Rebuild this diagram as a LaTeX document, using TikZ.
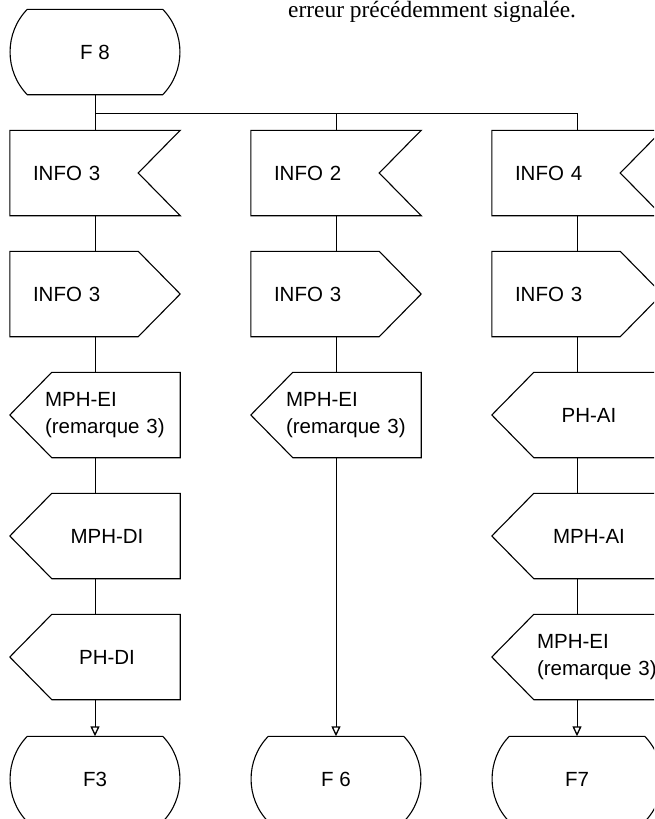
\documentclass[tikz,border=0pt]{standalone}
\usepackage{fontspec}
\setmainfont{Liberation Serif}
\setsansfont{Liberation Sans}
\usepackage{tikz}
\usetikzlibrary{arrows.meta}

\begin{document}
\begin{tikzpicture}[
    x=1pt,y=-1pt,
    trait/.style  = {black, line width=1.1pt, line join=miter},
    lien/.style   = {black, line width=1pt},
    fleche/.style = {lien, -{Triangle[open,length=10pt,width=9pt,line width=1.3pt]}},
    etiq/.style   = {font=\sffamily\fontsize{20.5}{27}\selectfont},
    boite/.style  = {etiq, rectangle, minimum width=170pt, minimum height=85pt,
                     inner ysep=0pt},
    recu/.style   = {boite, text width=124pt, inner xsep=23pt, align=left,
                     append after command={\pgfextra{
                       \draw[trait] (\tikzlastnode.north west) -- (\tikzlastnode.north east)
                         -- ([xshift=-42pt]\tikzlastnode.east) -- (\tikzlastnode.south east)
                         -- (\tikzlastnode.south west) -- cycle;}}},
    envoi/.style  = {boite, text width=124pt, inner xsep=23pt, align=left,
                     append after command={\pgfextra{
                       \draw[trait] (\tikzlastnode.north west) -- ([xshift=-42pt]\tikzlastnode.north east)
                         -- (\tikzlastnode.east) -- ([xshift=-42pt]\tikzlastnode.south east)
                         -- (\tikzlastnode.south west) -- cycle;}}},
    pointeg/.style= {append after command={\pgfextra{
                       \draw[trait] (\tikzlastnode.west) -- ([xshift=42pt]\tikzlastnode.north west)
                         -- (\tikzlastnode.north east) -- (\tikzlastnode.south east)
                         -- ([xshift=42pt]\tikzlastnode.south west) -- cycle;}}},
    emis/.style   = {boite, pointeg, text width=150pt, inner xsep=10pt, align=left,
                     execute at begin node={\leftskip=24pt plus 1fil
                       \rightskip=0pt plus 1fil\parfillskip=0pt}},
    emisg/.style  = {boite, pointeg, text width=170pt, inner xsep=0pt, align=left,
                     execute at begin node={\leftskip=#1}},
    emisg/.default= 35pt,
    etat/.style   = {etiq, rectangle, minimum width=135pt, minimum height=85pt,
                     inner sep=0pt,
                     append after command={\pgfextra{
                       \draw[trait] (\tikzlastnode.north west) -- (\tikzlastnode.north east)
                         .. controls ([shift={(23,23.5)}]\tikzlastnode.north east)
                         and ([shift={(23,-23.5)}]\tikzlastnode.south east) .. (\tikzlastnode.south east)
                         -- (\tikzlastnode.south west)
                         .. controls ([shift={(-23,-23.5)}]\tikzlastnode.south west)
                         and ([shift={(-23,23.5)}]\tikzlastnode.north west) .. (\tikzlastnode.north west)
                         -- cycle;}}},
    titre/.style  = {font=\fontsize{23.4}{26}\selectfont, inner sep=0pt},
  ]

  \useasboundingbox (0,0) rectangle (654,819);
  \clip (0,0) rectangle (654,819);

  % Fin du texte qui precede
  \node[titre,anchor=base west] (titre) at (288,17) {erreur précédemment signalée.};

  % Etat de depart
  \node[etat] (f8) at (95,52) {F 8};
  \coordinate (embr) at (95,113);

  % Colonne de gauche
  \node[recu]  (r1)  at (95,173) {INFO 3};
  \node[envoi] (s1)  at (95,294) {INFO 3};
  \node[emisg] (e1a) at (95,415) {MPH-EI\\(remarque 3)};
  \node[emis]  (e1b) at (95,536) {MPH-DI};
  \node[emis]  (e1c) at (95,657) {PH-DI};
  \node[etat]  (f3)  at (95,779) {F3};

  % Colonne du milieu
  \node[recu]  (r2)  at (336,173) {INFO 2};
  \node[envoi] (s2)  at (336,294) {INFO 3};
  \node[emisg] (e2)  at (336,415) {MPH-EI\\(remarque 3)};
  \node[etat]  (f6)  at (336,779) {F 6};

  % Colonne de droite
  \node[recu]  (r3)  at (577,173) {INFO 4};
  \node[envoi] (s3)  at (577,294) {INFO 3};
  \node[emis]  (e3a) at (577,415) {PH-AI};
  \node[emis]  (e3b) at (577,536) {MPH-AI};
  \node[emisg=45pt] (e3c) at (577,657) {MPH-EI\\(remarque 3)};
  \node[etat]  (f7)  at (577,779) {F7};

  % Branchement
  \draw[lien] (f8.south) -- (r1.north);
  \draw[lien] (embr) -| (r3.north);
  \draw[lien] (embr -| r2.north) -- (r2.north);

  \draw[lien] (r1.south) -- (s1.north);
  \draw[lien] (s1.south) -- (e1a.north);
  \draw[lien] (e1a.south) -- (e1b.north);
  \draw[lien] (e1b.south) -- (e1c.north);
  \draw[fleche] (e1c.south) -- (f3.north);

  \draw[lien] (r2.south) -- (s2.north);
  \draw[lien] (s2.south) -- (e2.north);
  \draw[fleche] (e2.south) -- (f6.north);

  \draw[lien] (r3.south) -- (s3.north);
  \draw[lien] (s3.south) -- (e3a.north);
  \draw[lien] (e3a.south) -- (e3b.north);
  \draw[lien] (e3b.south) -- (e3c.north);
  \draw[fleche] (e3c.south) -- (f7.north);

\end{tikzpicture}
\end{document}
